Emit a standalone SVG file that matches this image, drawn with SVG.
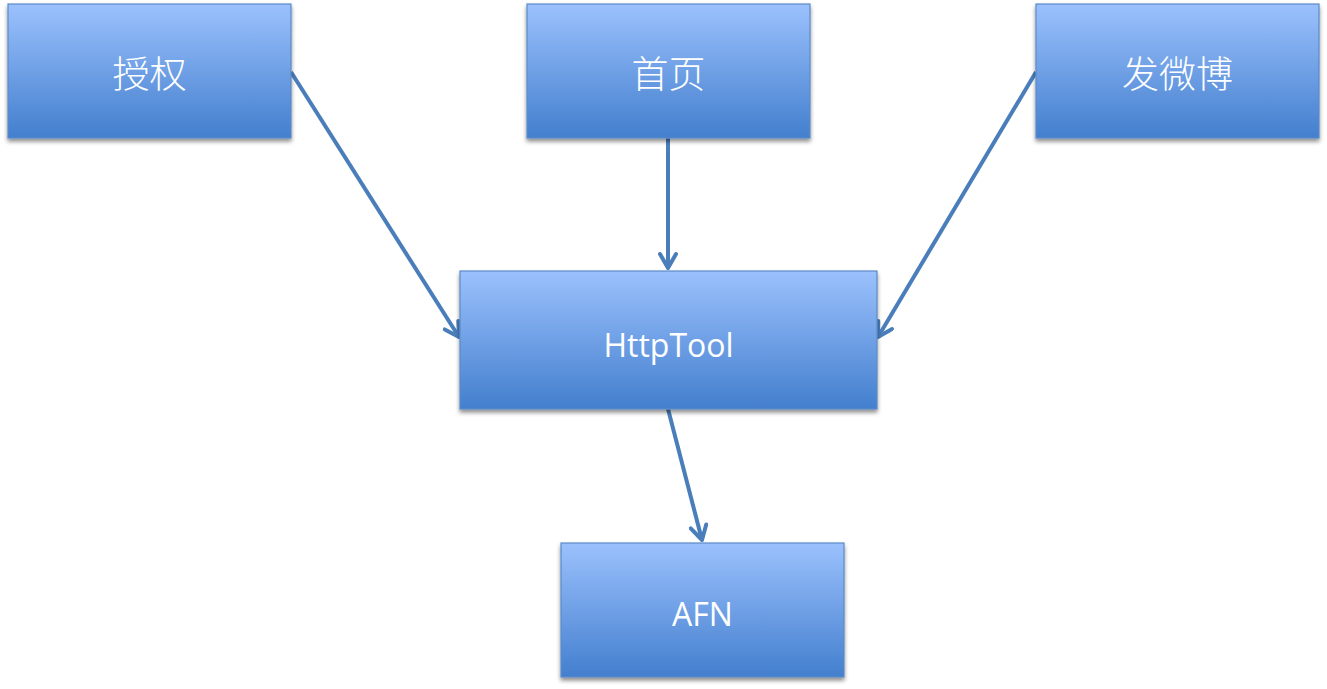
<svg xmlns="http://www.w3.org/2000/svg" width="1327" height="689" viewBox="0 0 1327 689">
<defs>
<linearGradient id="g" x1="0" y1="0" x2="0" y2="1">
<stop offset="0" stop-color="#9bc1fd"/>
<stop offset="1" stop-color="#437fce"/>
</linearGradient>
<filter id="sh" x="-10%" y="-10%" width="120%" height="130%">
<feGaussianBlur in="SourceAlpha" stdDeviation="2"/>
<feOffset dx="0" dy="3" result="b"/>
<feComponentTransfer><feFuncA type="linear" slope="0.45"/></feComponentTransfer>
<feMerge><feMergeNode/><feMergeNode in="SourceGraphic"/></feMerge>
</filter>
<marker id="arr" viewBox="-18 -10 20 20" refX="0" refY="0" markerUnits="userSpaceOnUse" markerWidth="20" markerHeight="20" orient="auto">
<path d="M-14,-8 L0,0 L-14,8" fill="none" stroke="#4a7ebb" stroke-width="4" stroke-linejoin="round" stroke-linecap="round"/>
</marker>
</defs>
<style>
.box{fill:url(#g);stroke:#5b8bc8;stroke-width:1.2;filter:url(#sh)}
.t{fill:#ffffff;font-family:"Open Sans","Noto Sans","Noto Sans CJK SC",sans-serif;text-anchor:middle;dominant-baseline:central}
.zh{font-size:37px;font-family:"Noto Sans CJK SC","Noto Sans",sans-serif;font-weight:300}
.en{font-size:32px}
.c{fill:none;stroke:#4a7ebb;stroke-width:4;marker-end:url(#arr)}
</style>
<g id="connectors">
<line class="c" x1="291" y1="72" x2="459" y2="337"/>
<line class="c" x1="668" y1="138" x2="668" y2="268"/>
<line class="c" x1="1036" y1="72" x2="878" y2="337"/>
<line class="c" x1="668" y1="409" x2="702" y2="540"/>
</g>
<g id="n-auth">
<rect class="box" x="8" y="4" width="283" height="134"/>
<text class="t zh" x="149.5" y="72">授权</text>
</g>
<g id="n-home">
<rect class="box" x="527" y="4" width="283" height="134"/>
<text class="t zh" x="668.5" y="72">首页</text>
</g>
<g id="n-post">
<rect class="box" x="1036" y="4" width="283" height="134"/>
<text class="t zh" x="1177.5" y="72">发微博</text>
</g>
<g id="n-http">
<rect class="box" x="460" y="271" width="417" height="138"/>
<text class="t en" x="668.5" y="344">HttpTool</text>
</g>
<g id="n-afn">
<rect class="box" x="561" y="543" width="283" height="134"/>
<text class="t en" x="702.5" y="613">AFN</text>
</g>
</svg>
